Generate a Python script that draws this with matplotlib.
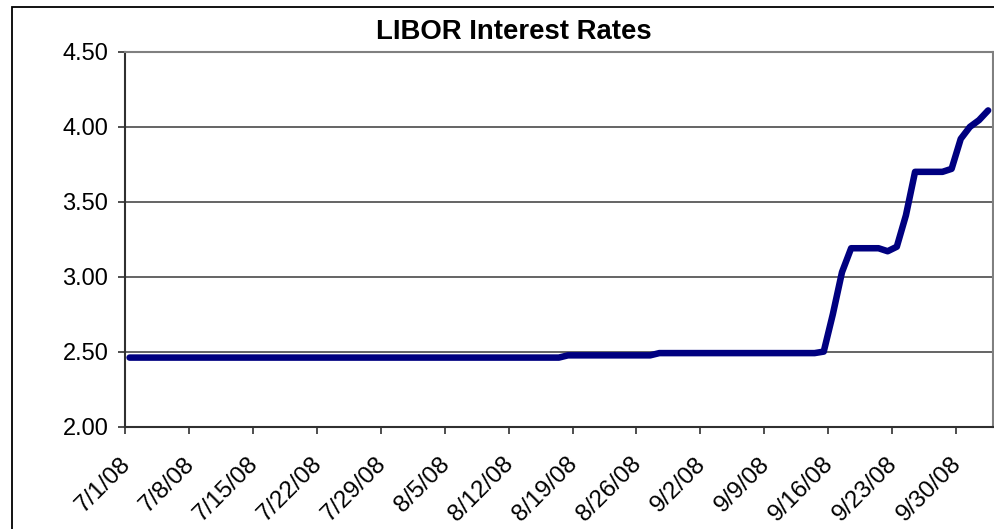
import matplotlib
matplotlib.use("Agg")
import matplotlib.pyplot as plt
import matplotlib.dates as mdates
import matplotlib.transforms as mtransforms
from matplotlib.patches import Rectangle
import pandas as pd
import numpy as np

plt.rcParams['font.family'] = ['Liberation Sans', 'DejaVu Sans']

# ---- data: daily LIBOR rates 7/1/08 .. 10/3/08 ----
start_date = "2008-07-01"
end_date = "2008-10-03"
rates = [
    2.46, 2.46, 2.46, 2.46, 2.46, 2.46, 2.46,          # 7/1 - 7/7
    2.46, 2.46, 2.46, 2.46, 2.46, 2.46, 2.46,          # 7/8 - 7/14
    2.46, 2.46, 2.46, 2.46, 2.46, 2.46, 2.46,          # 7/15 - 7/21
    2.46, 2.46, 2.46, 2.46, 2.46, 2.46, 2.46,          # 7/22 - 7/28
    2.46, 2.46, 2.46, 2.46, 2.46, 2.46, 2.46,          # 7/29 - 8/4
    2.46, 2.46, 2.46, 2.46, 2.46, 2.46, 2.46,          # 8/5 - 8/11
    2.46, 2.46, 2.46, 2.46, 2.46, 2.46, 2.475,         # 8/12 - 8/18
    2.475, 2.475, 2.475, 2.475, 2.475, 2.475, 2.475,   # 8/19 - 8/25
    2.475, 2.475, 2.49, 2.49, 2.49, 2.49, 2.49,        # 8/26 - 9/1
    2.49, 2.49, 2.49, 2.49, 2.49, 2.49, 2.49,          # 9/2 - 9/8
    2.49, 2.49, 2.49, 2.49, 2.49, 2.49, 2.50,          # 9/9 - 9/15
    2.75, 3.03, 3.19, 3.19, 3.19, 3.19, 3.17,          # 9/16 - 9/22
    3.20, 3.41, 3.70, 3.70, 3.70, 3.70, 3.72,          # 9/23 - 9/29
    3.92, 4.00, 4.045, 4.11,                           # 9/30 - 10/3
]
tick_start = "2008-07-01"
tick_end = "2008-09-30"
axis_end = "2008-10-04"
y_ticks = [2.00, 2.50, 3.00, 3.50, 4.00, 4.50]
title = "LIBOR Interest Rates"

dates = pd.date_range(start_date, end_date, freq="D")
# Excel date axis places each day's point in the middle of its day slot
xpos = dates + pd.Timedelta(hours=12)

W, H = 995, 529
fig = plt.figure(figsize=(W / 100, H / 100), dpi=100)
fig.patch.set_facecolor("white")

# outer chart border
fig.patches.append(Rectangle((12 / W, -0.05), 1.2, 1 - 7 / H + 0.05,
                             transform=fig.transFigure, fill=False,
                             edgecolor="black", linewidth=1.3, zorder=0))

ax = fig.add_axes([125 / W, 1 - 426.5 / H, (992.7 - 125) / W, (426.5 - 52) / H])
ax.set_facecolor("white")

ax.plot(xpos, rates, color="#000080", linewidth=4.7,
        solid_capstyle="round", solid_joinstyle="round", zorder=3)

ax.set_ylim(2.0, 4.5)
ax.set_yticks(y_ticks)
ax.set_yticklabels([f"{v:.2f}" for v in y_ticks])
ax.yaxis.grid(True, color="#3a3a3a", linewidth=1.1)
ax.set_axisbelow(True)

ax.set_xlim(pd.Timestamp(tick_start), pd.Timestamp(axis_end))
xt = pd.date_range(tick_start, tick_end, freq="7D")
ax.set_xticks(xt)
ax.set_xticklabels([f"{d.month}/{d.day}/{d:%y}" for d in xt])

for side in ["top", "right"]:
    ax.spines[side].set_color("#808080")
    ax.spines[side].set_linewidth(1.5)
for side in ["left", "bottom"]:
    ax.spines[side].set_color("#303030")
    ax.spines[side].set_linewidth(1.5)

ax.tick_params(axis="y", direction="out", length=5, width=1.2,
               color="#303030", labelsize=17, pad=7)
ax.tick_params(axis="x", direction="out", length=5, width=1.2,
               color="#303030", labelsize=17.5, pad=14)

offset = mtransforms.ScaledTranslation(-6 / 100, 0, fig.dpi_scale_trans)
for lab in ax.get_xticklabels():
    lab.set_rotation(45)
    lab.set_ha("right")
    lab.set_va("top")
    lab.set_rotation_mode("anchor")
    lab.set_transform(lab.get_transform() + offset)

fig.text(514 / W, 1 - 32 / H, title, ha="center", va="center",
         fontsize=19.8, fontweight="bold")

fig.savefig("out.png", dpi=100)
